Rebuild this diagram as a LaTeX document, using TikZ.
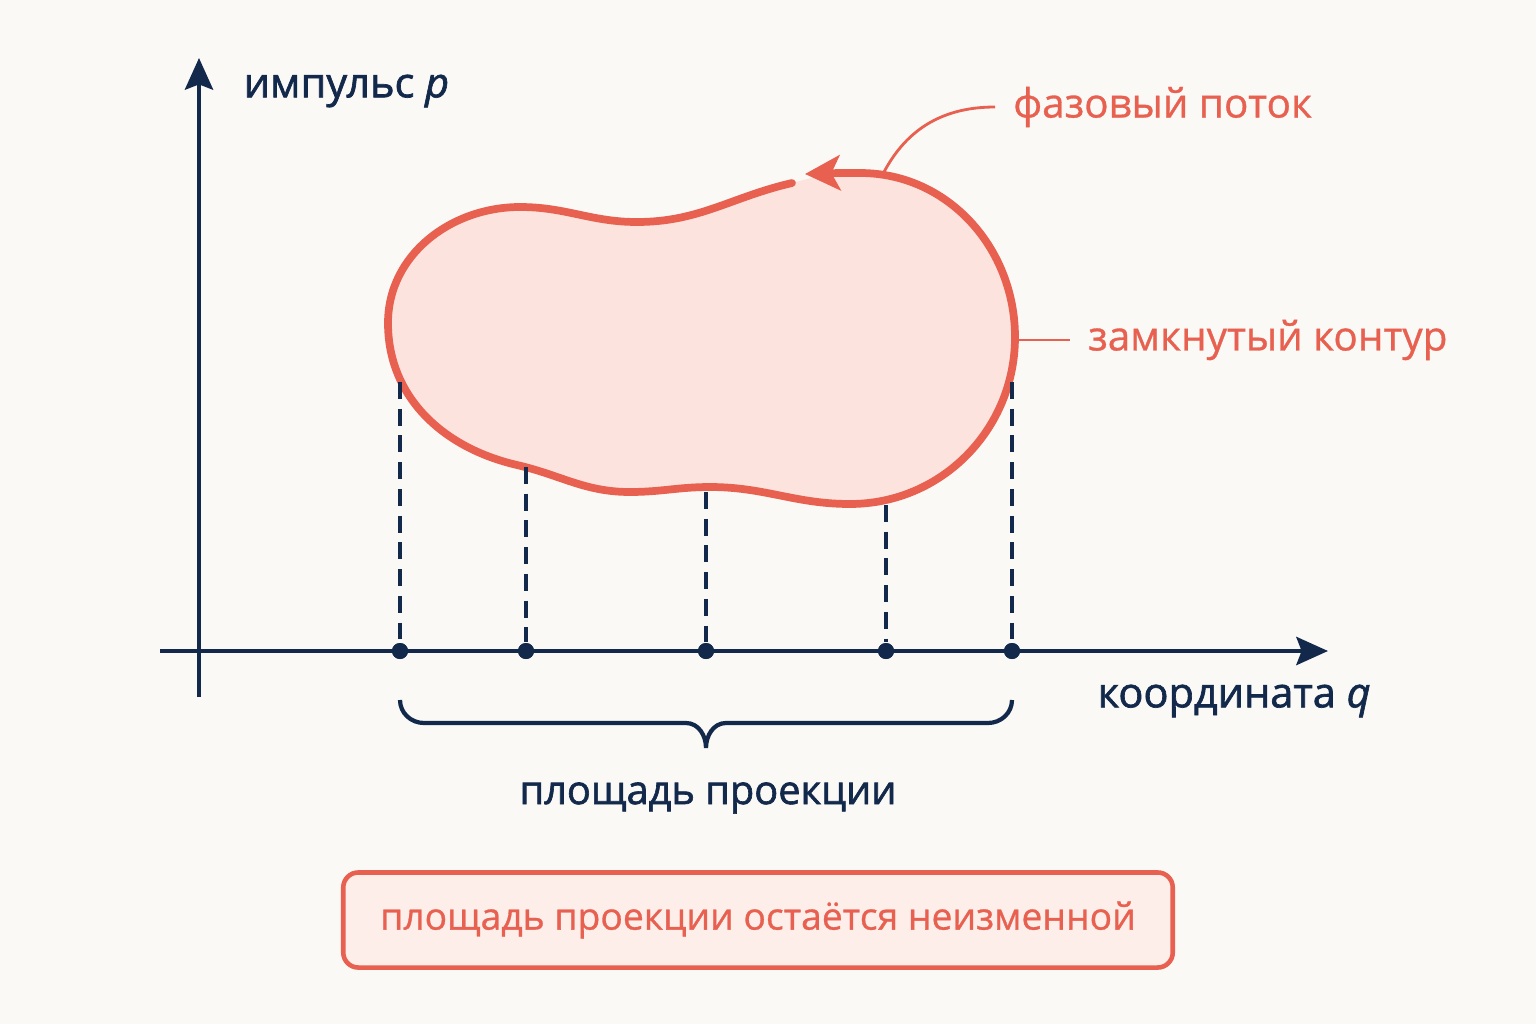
\documentclass[tikz,border=0pt]{standalone}
\usepackage{fontspec}
\setmainfont{Open Sans}
\newfontfamily\labelfont{Open Sans}[FakeBold=1.6]
\newfontfamily\redfont{Open Sans}[FakeBold=0.8]
\usetikzlibrary{arrows.meta}
\definecolor{navy}{HTML}{13294B}
\definecolor{flowred}{HTML}{E8604F}
\definecolor{blobfill}{HTML}{FDE3DD}
\definecolor{paper}{HTML}{FBF9F6}
\definecolor{notefill}{HTML}{FDEEEA}

\begin{document}
\begin{tikzpicture}[x=0.01cm, y=-0.01cm,
		axis/.style={line width=1.2pt, draw=navy, -{Stealth[length=9pt,width=8pt,inset=1.5pt]}},
		proj/.style={line width=1pt, draw=navy, dash pattern=on 4.8pt off 2.8pt},
		dot/.style={circle, fill=navy, inner sep=0pt, minimum size=0.16cm},
		lead/.style={line width=0.8pt, draw=flowred},
		navylabel/.style={text=navy, inner sep=0pt, font=\labelfont\fontsize{11.8}{14}\selectfont},
		redlabel/.style={text=flowred, inner sep=5pt, font=\redfont\fontsize{11.5}{14}\selectfont}]
		\fill[paper] (0,0) rectangle (1536,1024);
		\useasboundingbox (0,0) rectangle (1536,1024);
		% phase contour
		\draw[line width=2.2pt, draw=flowred, fill=blobfill, line cap=round, -{Stealth[length=10pt,width=10pt,inset=2.5pt]}]
			(792,183) to[out=193,in=0] (637,222) to[out=180,in=0] (520,207) to[out=180,in=90] (388,323)
			to[out=-90,in=167] (517,465) to[out=-13,in=180] (630,492) to[out=0,in=180] (710,487)
			to[out=0,in=180] (850,504) to[out=0,in=-90] (1015,337) to[out=90,in=0] (860,173)
			to[out=180,in=2] (805,174);
		% projections onto q
		\foreach \i/\x/\y in {1/400/382, 2/526/467, 3/706/492, 4/886/505, 5/1012/382} {
			\coordinate (c\i) at (\x,\y);
			\node[dot] (q\i) at (\x,651) {};
		}
		\foreach \i in {1,...,5}
			\draw[proj] (c\i) -- (q\i);
		% axes
		\coordinate (pbot) at (199,697);
		\coordinate (ptop) at (199,58);
		\coordinate (qleft) at (160,651);
		\coordinate (qright) at (1328,651);
		\draw[axis] (pbot) -- (ptop);
		\draw[axis] (qleft) -- (qright);
		\foreach \i in {1,...,5}
			\node[dot] at (q\i) {};
		\node[navylabel, anchor=west] (plbl) at (243,91) {импульс \textit{p}};
		\node[navylabel, anchor=west] (qlbl) at (1097,701) {координата \textit{q}};
		% brace
		\coordinate (brl) at (400,700);
		\coordinate (brr) at (1012,700);
		\coordinate (brtip) at (706,748);
		\draw[line width=1.2pt, navy] (brl) to[out=-90,in=180] (424,723) -- (686,723) to[out=0,in=90] (brtip)
			to[out=90,in=180] (726,723) -- (988,723) to[out=0,in=-90] (brr);
		\node[navylabel, font=\labelfont\fontsize{11.3}{14}\selectfont] (arealbl) at (708,798) {площадь проекции};
		% red labels
		\node[redlabel, anchor=west] (flowlbl) at (995,107) {фазовый поток};
		\coordinate (flowpt) at (884,172);
		\draw[lead] (flowlbl.west) to[out=180,in=62] (flowpt);
		\node[redlabel, anchor=west] (looplbl) at (1070,340) {замкнутый контур};
		\coordinate (looppt) at (1018,340);
		\draw[lead] (looplbl.west) -- (looppt);
		\node[draw=flowred, fill=notefill, line width=1.3pt, rounded corners=0.15cm, minimum width=8.29cm, minimum height=0.95cm,
			text=flowred, font=\redfont\fontsize{10.6}{13}\selectfont] (note) at (758,920) {площадь проекции остаётся неизменной};
\end{tikzpicture}
\end{document}
